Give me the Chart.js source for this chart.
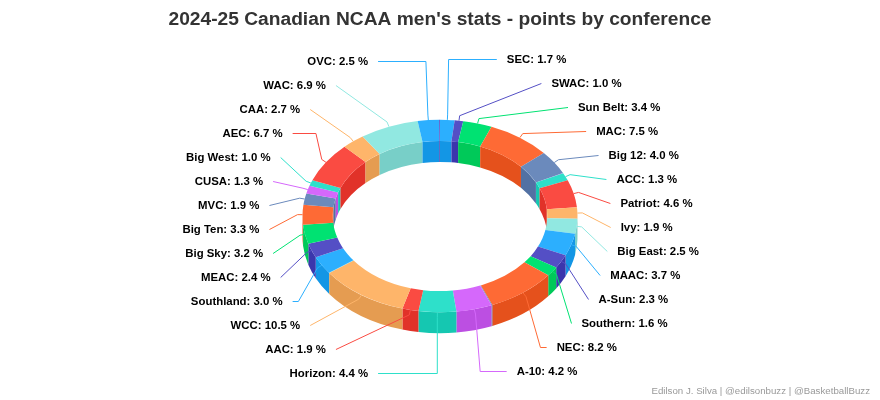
<!DOCTYPE html>
<html>
<head>
<meta charset="utf-8">
<title>Points by conference</title>
<script src="https://cdn.jsdelivr.net/npm/chart.js@4"></script>
<style>
  html, body { margin: 0; background: #fff; }
  canvas { display: block; }
</style>
</head>
<body>
<canvas id="donut" width="880" height="400"></canvas>
<script>
// Empty names are the hairline slices that have no label in the picture
const conferences = ['SEC', 'SWAC', 'Sun Belt', 'MAC', 'Big 12', '', 'ACC', 'Patriot', 'Ivy', 'Big East', 'MAAC', 'A-Sun',
    'Southern', 'NEC', '', 'A-10', 'Horizon', 'AAC', 'WCC', '', 'Southland', 'MEAC', 'Big Sky', 'Big Ten', 'MVC', 'CUSA',
    'Big West', 'AEC', 'CAA', 'WAC', 'OVC', ''];
const shares = [1.7, 1.0, 3.4, 7.5, 4.0, 0.03, 1.3, 4.6, 1.9, 2.5, 3.7, 2.3,
    1.6, 8.2, 0.1, 4.2, 4.4, 1.9, 10.5, 0.03, 3.0, 2.4, 3.2, 3.3, 1.9, 1.3,
    1.0, 6.7, 2.7, 6.9, 2.5, 0.1];
const palette = ['#2caffe', '#544fc5', '#00e272', '#fe6a35', '#6b8abc', '#d568fb', '#2ee0ca', '#fa4b42', '#feb56a', '#91e8e1'];

const titleText = "2024-25 Canadian NCAA men's stats - points by conference";
const creditText = 'Edilson J. Silva | @edilsonbuzz | @BasketballBuzz';

// How far along the label line the connector bends, for the ones that bend
const connectorBends = { OVC: 0.04, SEC: 0.02, AEC: 0.2, Southland: 0.77, Horizon: 0, 'A-10': 0.15, NEC: 0.7 };

// Fake 3D settings
const squash = 0.7;
const depth = 21;
const centerY = 216;

function shade(hex) {
    const n = parseInt(hex.slice(1), 16);
    const c = [n >> 16, (n >> 8) & 255, n & 255].map(v => Math.max(0, Math.round(v - 25.5)));
    return 'rgb(' + c.join(',') + ')';
}

function drawWall(ctx, x, y, r, a, b, color) {
    if (b <= a) return;
    ctx.fillStyle = color;
    ctx.beginPath();
    ctx.ellipse(x, y, r, r * squash, 0, a, b);
    ctx.ellipse(x, y + depth, r, r * squash, 0, b, a, true);
    ctx.closePath();
    ctx.fill();
}

const ring3d = {
    id: 'ring3d',
    beforeDatasetDraw(chart) {
        const ctx = chart.ctx;
        const arcs = chart.getDatasetMeta(0).data;
        arcs.forEach((arc, i) => {
            const color = shade(palette[i % palette.length]);
            const a = arc.startAngle, b = arc.endAngle;
            // back of the hole
            drawWall(ctx, arc.x, centerY, arc.innerRadius, a, Math.min(b, 0), color);
            drawWall(ctx, arc.x, centerY, arc.innerRadius, Math.max(a, Math.PI), b, color);
        });
        arcs.forEach((arc, i) => {
            const color = shade(palette[i % palette.length]);
            // front of the ring
            drawWall(ctx, arc.x, centerY, arc.outerRadius, Math.max(arc.startAngle, 0), Math.min(arc.endAngle, Math.PI), color);
        });
        // the library draws the top faces, flattened
        ctx.save();
        ctx.translate(0, centerY);
        ctx.scale(1, squash);
        ctx.translate(0, -arcs[0].y);
    },
    afterDatasetDraw(chart) {
        chart.ctx.restore();
    },
    afterDatasetsDraw(chart) {
        const ctx = chart.ctx;
        const arcs = chart.getDatasetMeta(0).data;
        const sides = { right: [], left: [] };
        arcs.forEach((arc, i) => {
            if (!conferences[i]) return;
            const mid = (arc.startAngle + arc.endAngle) / 2;
            sides[mid < Math.PI / 2 ? 'right' : 'left'].push({ arc, i, mid });
        });
        sides.left.reverse();

        ctx.save();
        ctx.font = 'bold 11.4px "Liberation Sans", Arial, sans-serif';
        ctx.textBaseline = 'middle';
        ctx.lineJoin = 'round';
        ['right', 'left'].forEach(side => {
            const dir = side === 'right' ? 1 : -1;
            sides[side].forEach((item, slot) => {
                const arc = item.arc;
                const name = conferences[item.i];
                const labelY = centerY + (slot - 6.5) * 24 - dir;
                const dy = labelY - 217;
                const labelX = arc.x + dir * 181 * Math.sqrt(1 - (dy / 170) * (dy / 170));
                const cos = Math.cos(item.mid), sin = Math.sin(item.mid);
                const r = arc.outerRadius;
                const touch = { x: arc.x + r * cos, y: centerY + r * squash * sin };
                const brk = { x: touch.x + 5 * cos, y: touch.y + 5 * sin };
                const endX = labelX - dir * 10;

                ctx.strokeStyle = palette[item.i % palette.length];
                ctx.lineWidth = 1;
                ctx.beginPath();
                ctx.moveTo(endX, labelY + 0.5);
                if (name in connectorBends) {
                    ctx.lineTo(brk.x + connectorBends[name] * (endX - brk.x), labelY + 0.5);
                }
                ctx.lineTo(brk.x, brk.y);
                ctx.lineTo(touch.x, touch.y);
                ctx.stroke();

                const text = name + ': ' + shares[item.i].toFixed(1) + ' %';
                ctx.textAlign = side === 'right' ? 'left' : 'right';
                ctx.strokeStyle = '#fff';
                ctx.lineWidth = 2;
                ctx.strokeText(text, labelX, labelY + 1);
                ctx.fillStyle = '#000';
                ctx.fillText(text, labelX, labelY + 1);
            });
        });
        ctx.restore();
    }
};

new Chart(document.getElementById('donut'), {
    type: 'doughnut',
    data: {
        labels: conferences,
        datasets: [{
            data: shares,
            backgroundColor: conferences.map((c, i) => palette[i % palette.length]),
            borderWidth: 0,
            radius: 137.5,
            cutout: '78%'
        }]
    },
    plugins: [ring3d],
    options: {
        responsive: false,
        animation: false,
        layout: { padding: { left: 10, right: 10 } },
        plugins: {
            legend: { display: false },
            tooltip: { enabled: false },
            title: {
                display: true,
                text: titleText,
                color: '#333333',
                font: { family: '"Liberation Sans", Arial, sans-serif', size: 19.2, weight: 'bold' },
                padding: { top: 8, bottom: 20 }
            },
            subtitle: {
                display: true,
                position: 'bottom',
                align: 'end',
                text: creditText,
                color: '#999999',
                font: { family: '"Liberation Sans", Arial, sans-serif', size: 9.7, weight: 'normal' },
                padding: { top: 0, bottom: 3 }
            }
        }
    }
});
</script>
</body>
</html>
